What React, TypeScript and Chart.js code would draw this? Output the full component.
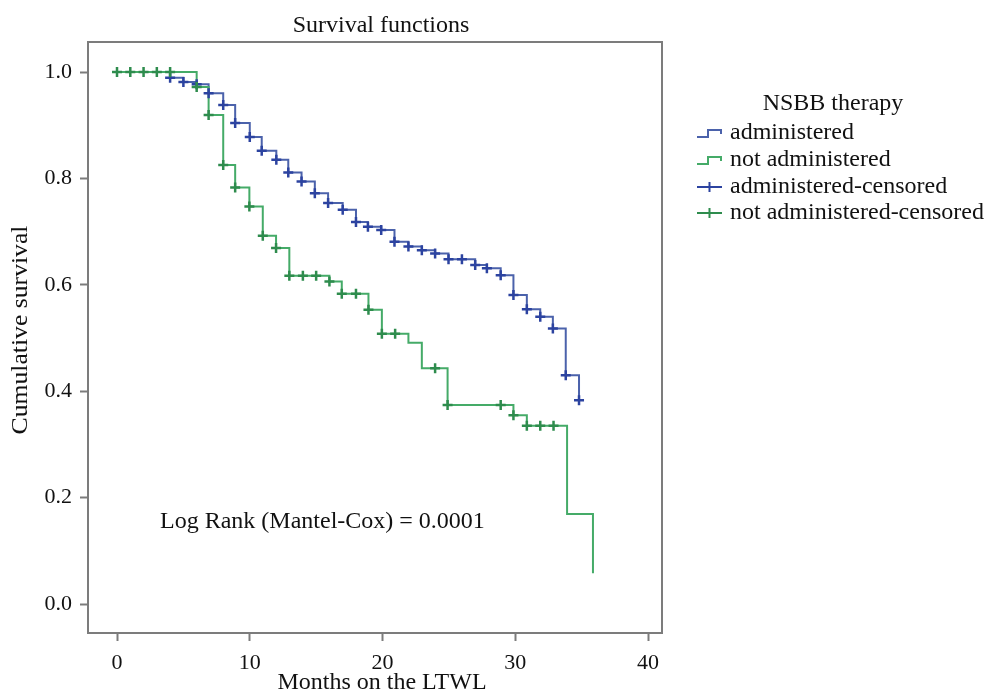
import React, { useEffect, useRef } from 'react';
import { Chart, registerables } from 'chart.js';

Chart.register(...registerables);

// ---- Data (months on the LTWL, cumulative survival) ----
const adminTimes = [0, 4, 5, 6, 6.9, 8, 8.9, 10, 10.9, 12, 12.9, 13.9, 14.9, 15.9, 17, 18, 18.9, 19.9, 20.9, 21.95, 22.96, 23.96, 24.97, 25.98, 26.98, 27.86, 28.9, 29.86, 30.87, 31.88, 32.83, 33.8, 34.8];
const adminSurvival = [1.0, 0.989, 0.981, 0.977, 0.96, 0.938, 0.904, 0.878, 0.852, 0.835, 0.811, 0.794, 0.772, 0.754, 0.741, 0.718, 0.709, 0.703, 0.681, 0.672, 0.665, 0.659, 0.648, 0.648, 0.637, 0.631, 0.618, 0.581, 0.554, 0.54, 0.518, 0.43, 0.383];

const adminCensorTimes = [4, 5, 6, 6.9, 8, 8.9, 10, 10.9, 12, 12.9, 13.9, 14.9, 15.9, 17, 18, 18.9, 19.9, 20.9, 21.95, 22.96, 23.96, 24.97, 25.98, 26.98, 27.86, 28.9, 29.86, 30.87, 31.88, 32.83, 33.8, 34.8];
const adminCensorSurvival = [0.989, 0.981, 0.977, 0.96, 0.938, 0.904, 0.878, 0.852, 0.835, 0.811, 0.794, 0.772, 0.754, 0.741, 0.718, 0.709, 0.703, 0.681, 0.672, 0.665, 0.659, 0.648, 0.648, 0.637, 0.631, 0.618, 0.581, 0.554, 0.54, 0.518, 0.43, 0.383];

const notTimes = [0, 6, 6.9, 8, 8.9, 9.97, 10.98, 11.98, 12.98, 16, 16.93, 18.94, 19.95, 21.95, 22.96, 24.9, 29.86, 30.87, 33.9, 35.85];
const notSurvival = [1.0, 0.972, 0.919, 0.825, 0.783, 0.747, 0.692, 0.669, 0.617, 0.606, 0.583, 0.553, 0.508, 0.491, 0.443, 0.374, 0.355, 0.335, 0.169, 0.058];

const notCensorTimes = [0, 1, 2, 3, 4, 6, 6.9, 8, 8.9, 9.97, 10.98, 11.98, 12.98, 14, 15, 16, 16.93, 18, 18.94, 19.95, 20.95, 23.96, 24.9, 28.9, 29.86, 30.87, 31.88, 32.88];
const notCensorSurvival = [1, 1, 1, 1, 1, 0.972, 0.919, 0.825, 0.783, 0.747, 0.692, 0.669, 0.617, 0.617, 0.617, 0.606, 0.583, 0.583, 0.553, 0.508, 0.508, 0.443, 0.374, 0.374, 0.355, 0.335, 0.335, 0.335];

const xTickValues = [0, 10, 20, 30, 40];
const yTickValues = [0, 0.2, 0.4, 0.6, 0.8, 1.0];

const seriesLabels = ['administered', 'not administered', 'administered-censored', 'not administered-censored'];

const BLUE_LINE = '#4b62ab';
const BLUE_MARK = '#2c43a0';
const GREEN_LINE = '#45ab68';
const GREEN_MARK = '#2e8c4d';
const FONT = "'Liberation Serif', 'Times New Roman', serif";

const zip = (xs: number[], ys: number[]) => xs.map((x, i) => ({ x, y: ys[i] }));

const decorPlugin = {
  id: 'decor',
  afterDraw(chart: any) {
    const { ctx, chartArea } = chart;
    ctx.save();
    // frame
    ctx.strokeStyle = '#7c7c7c';
    ctx.lineWidth = 2;
    ctx.strokeRect(chartArea.left, chartArea.top, chartArea.right - chartArea.left, chartArea.bottom - chartArea.top);

    ctx.fillStyle = '#111';
    ctx.font = `24px ${FONT}`;
    ctx.textBaseline = 'middle';
    ctx.textAlign = 'center';
    ctx.fillText('Survival functions', 381, 26);
    ctx.fillText('Months on the LTWL', 382, 683);

    ctx.save();
    ctx.translate(21, 330);
    ctx.rotate(-Math.PI / 2);
    ctx.scale(1.07, 1);
    ctx.font = `24px ${FONT}`;
    ctx.fillText('Cumulative survival', 0, 0);
    ctx.restore();

    ctx.textAlign = 'left';
    ctx.fillText('Log Rank (Mantel-Cox) = 0.0001', 160, 522);

    // legend
    ctx.textAlign = 'center';
    ctx.fillText('NSBB therapy', 833, 104);
    ctx.textAlign = 'left';
    const ys = [133, 160, 187, 213];
    const colors = [BLUE_LINE, GREEN_LINE, BLUE_MARK, GREEN_MARK];
    ys.forEach((y, i) => {
      ctx.strokeStyle = colors[i];
      ctx.lineWidth = 2;
      ctx.beginPath();
      if (i < 2) {
        ctx.moveTo(697, y + 4);
        ctx.lineTo(708, y + 4);
        ctx.lineTo(708, y - 3);
        ctx.lineTo(721, y - 3);
        ctx.lineTo(721, y + 1);
      } else {
        ctx.moveTo(697, y);
        ctx.lineTo(722, y);
        ctx.moveTo(709.5, y - 5);
        ctx.lineTo(709.5, y + 5);
      }
      ctx.stroke();
      ctx.fillStyle = '#111';
      ctx.fillText(seriesLabels[i], 730, y);
    });
    ctx.restore();
  },
};

export default function App() {
  const ref = useRef<HTMLCanvasElement | null>(null);

  useEffect(() => {
    if (!ref.current) return;
    const chart = new Chart(ref.current, {
      type: 'scatter',
      data: {
        datasets: [
          {
            label: seriesLabels[3],
            data: zip(notCensorTimes, notCensorSurvival),
            showLine: false,
            pointStyle: 'cross',
            pointRadius: 5,
            pointBorderWidth: 2.5,
            pointBorderColor: GREEN_MARK,
            pointBackgroundColor: GREEN_MARK,
          },
          {
            label: seriesLabels[2],
            data: zip(adminCensorTimes, adminCensorSurvival),
            showLine: false,
            pointStyle: 'cross',
            pointRadius: 5,
            pointBorderWidth: 2.5,
            pointBorderColor: BLUE_MARK,
            pointBackgroundColor: BLUE_MARK,
          },
          {
            label: seriesLabels[1],
            data: zip(notTimes, notSurvival),
            showLine: true,
            stepped: 'before',
            borderColor: GREEN_LINE,
            borderWidth: 2,
            pointRadius: 0,
          },
          {
            label: seriesLabels[0],
            data: zip(adminTimes, adminSurvival),
            showLine: true,
            stepped: 'before',
            borderColor: BLUE_LINE,
            borderWidth: 2,
            pointRadius: 0,
          },
        ],
      },
      options: {
        responsive: false,
        animation: false,
        layout: { padding: { top: 42, right: 322, bottom: 0, left: 0 } },
        plugins: {
          legend: { display: false },
          tooltip: { enabled: false },
          title: { display: false },
        },
        scales: {
          x: {
            type: 'linear',
            min: -2.185,
            max: 41.05,
            afterBuildTicks: (scale: any) => {
              scale.ticks = xTickValues.map((v) => ({ value: v }));
            },
            afterFit: (scale: any) => {
              scale.height = 61;
            },
            ticks: {
              font: { family: FONT, size: 22 },
              color: '#111',
              padding: 9,
              maxRotation: 0,
              callback: (v: any) => String(v),
            },
            grid: {
              drawOnChartArea: false,
              drawTicks: true,
              tickLength: 8,
              tickColor: '#7c7c7c',
              tickWidth: 2,
            },
            border: { display: false },
          },
          y: {
            type: 'linear',
            min: -0.0545,
            max: 1.0564,
            afterBuildTicks: (scale: any) => {
              scale.ticks = yTickValues.map((v) => ({ value: v }));
            },
            afterFit: (scale: any) => {
              scale.width = 88;
            },
            ticks: {
              font: { family: FONT, size: 22 },
              color: '#111',
              padding: 8,
              callback: (v: any) => Number(v).toFixed(1),
            },
            grid: {
              drawOnChartArea: false,
              drawTicks: true,
              tickLength: 8,
              tickColor: '#7c7c7c',
              tickWidth: 2,
            },
            border: { display: false },
          },
        },
      },
      plugins: [decorPlugin],
    } as any);
    return () => chart.destroy();
  }, []);

  return (
    <div style={{ position: 'absolute', left: 0, top: 0, width: 984, height: 694, background: '#fff' }}>
      <canvas ref={ref} width={984} height={694} style={{ display: 'block', width: 984, height: 694 }} />
    </div>
  );
}
